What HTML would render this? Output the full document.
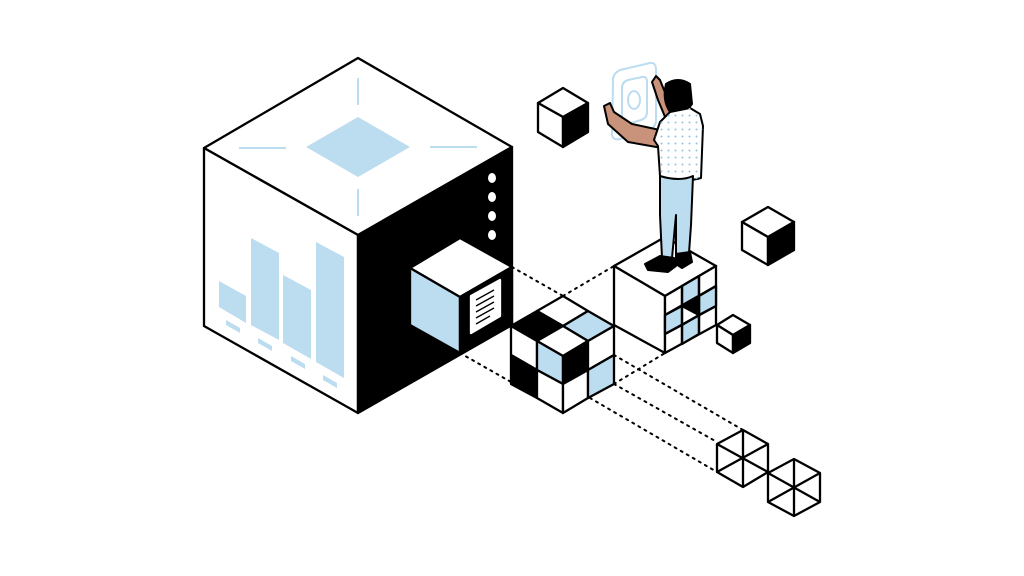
<!DOCTYPE html>
<html><head><meta charset="utf-8"><style>
html,body{margin:0;padding:0;background:#fff;}
svg{display:block;}
</style></head><body>
<svg width="1024" height="576" viewBox="0 0 1024 576" xmlns="http://www.w3.org/2000/svg">
<defs>
<pattern id="dots" width="7" height="7" patternUnits="userSpaceOnUse"><circle cx="3.5" cy="3.5" r="1" fill="#8fc3e3"/></pattern>
</defs>
<rect width="1024" height="576" fill="#fff"/>
<g stroke="#000" stroke-width="2.3" stroke-linejoin="round" fill="none">
<g stroke-dasharray="2 5" stroke-width="2" stroke-linecap="round">
<line x1="512" y1="267" x2="563" y2="296"/>
<line x1="563" y1="296" x2="614" y2="266"/>
<line x1="460" y1="353" x2="511" y2="382"/>
<line x1="614" y1="326" x2="665" y2="296"/>
<line x1="614" y1="384" x2="665" y2="353"/>
<line x1="614" y1="355" x2="743" y2="430"/>
<line x1="614" y1="384" x2="717" y2="442"/>
<line x1="590" y1="398" x2="717" y2="472"/>
</g>
<polygon points="358,58 512,147 358,235 204,148" fill="#fff"/>
<polygon points="204,148 358,235 358,413 204,326" fill="#fff"/>
<polygon points="358,235 512,147 512,325 358,413" fill="#000"/>
</g>
<polygon points="358,117 410,147 358,177 306,147" fill="#bcdcef"/>
<g stroke="#bcdcef" stroke-width="2">
<line x1="358" y1="78" x2="358" y2="105"/><line x1="239" y1="148" x2="286" y2="148"/>
<line x1="430" y1="147" x2="477" y2="147"/><line x1="358" y1="189" x2="358" y2="216"/>
</g>
<g fill="#bcdcef">
<polygon points="219,281 246,296 246,323 219,307"/>
<polygon points="251,238 279,253 279,340 251,325"/>
<polygon points="283,275 311,290 311,359 283,343"/>
<polygon points="316,242 344,257 344,378 316,362"/>
<polygon points="226,320 240,328 240,333 226,325"/>
<polygon points="258,338 272,346 272,351 258,343"/>
<polygon points="291,356 305,364 305,369 291,361"/>
<polygon points="323,375 337,383 337,388 323,380"/>
</g>
<g fill="#fff"><ellipse cx="492" cy="178" rx="4" ry="5"/><ellipse cx="492" cy="197" rx="4" ry="5"/><ellipse cx="492" cy="216" rx="4" ry="5"/><ellipse cx="492" cy="235" rx="4" ry="5"/></g>
<g stroke="#000" stroke-width="2.3" stroke-linejoin="round">
<polygon points="460,238 512,267 460,297 410,268" fill="#fff"/>
<polygon points="410,268 460,297 460,353 410,325" fill="#bcdcef"/>
<polygon points="460,297 512,267 512,325 460,353" fill="#000"/>
<polygon points="471,296 500,280 500,316 471,333" fill="#fff" stroke="#fff"/>
</g>
<g stroke="#000" stroke-width="1.3"><line x1="476" y1="300" x2="494" y2="290"/><line x1="476" y1="306" x2="494" y2="296"/><line x1="476" y1="312" x2="494" y2="302"/><line x1="476" y1="318" x2="494" y2="308"/><line x1="476" y1="324" x2="490" y2="316"/></g>
<g stroke="#000" stroke-width="2.3" stroke-linejoin="round">
<polygon points="563,296 588,311 563,326 537,311" fill="#fff"/>
<polygon points="537,311 563,326 537,341 511,326" fill="#000"/>
<polygon points="588,311 614,326 588,341 563,326" fill="#bcdcef"/>
<polygon points="563,326 588,341 563,356 537,341" fill="#fff"/>
<polygon points="511,326 537,341 537,370 511,355" fill="#fff"/>
<polygon points="537,341 563,356 563,384 537,370" fill="#bcdcef"/>
<polygon points="511,355 537,370 537,398 511,384" fill="#000"/>
<polygon points="537,370 563,384 563,413 537,398" fill="#fff"/>
<polygon points="563,356 588,341 588,370 563,384" fill="#000"/>
<polygon points="588,341 614,326 614,355 588,370" fill="#fff"/>
<polygon points="563,384 588,370 588,398 563,413" fill="#fff"/>
<polygon points="588,370 614,355 614,384 588,398" fill="#bcdcef"/>
<polygon points="665,237 716,266 665,296 614,266" fill="#fff"/>
<polygon points="614,266 665,296 665,353 614,325" fill="#fff"/>
<polygon points="665,296 716,266 716,325 665,353" fill="#fff"/>
<polygon points="682,286 699,276 699,296 682,306" fill="#bcdcef"/>
<polygon points="665,315 682,306 682,325 665,334" fill="#bcdcef"/>
<polygon points="699,296 716,286 716,306 699,315" fill="#bcdcef"/>
<polygon points="682,325 699,315 699,334 682,344" fill="#bcdcef"/>
<polygon points="682,306 699,296 699,315" fill="#000"/>
<line x1="682" y1="286" x2="682" y2="344"/><line x1="699" y1="276" x2="699" y2="334"/>
<line x1="665" y1="315" x2="716" y2="286"/><line x1="665" y1="334" x2="716" y2="306"/>
<polygon points="563,88 588,103 563,117 538,103" fill="#fff"/>
<polygon points="538,103 563,117 563,147 538,132" fill="#fff"/>
<polygon points="563,117 588,103 588,132 563,147" fill="#000"/>
<polygon points="768,207 794,222 768,237 742,222" fill="#fff"/>
<polygon points="742,222 768,237 768,265 742,250" fill="#fff"/>
<polygon points="768,237 794,222 794,250 768,265" fill="#000"/>
<polygon points="733,315 750,325 733,335 717,325" fill="#fff"/>
<polygon points="717,325 733,335 733,353 717,343" fill="#fff"/>
<polygon points="733,335 750,325 750,343 733,353" fill="#000"/>
<polygon points="743,430 768,444 768,472 743,487 717,472 717,444" fill="#fff"/>
<line x1="743" y1="430" x2="743" y2="487"/><line x1="717" y1="444" x2="768" y2="472"/><line x1="768" y1="444" x2="717" y2="472"/>
<polygon points="794,459 820,473 820,502 794,516 768,502 768,473" fill="#fff"/>
<line x1="794" y1="459" x2="794" y2="516"/><line x1="768" y1="473" x2="820" y2="502"/><line x1="820" y1="473" x2="768" y2="502"/>
</g>
<g stroke="#bcdcef" stroke-width="2" fill="none">
<path d="M613,82 Q612,74 620,70 L650,63 Q656,62 656,70 L656,120 Q656,127 649,130 L620,139 Q612,141 612,133 Z"/>
<path d="M622,88 Q622,82 628,80 L642,77 Q647,76 647,82 L647,112 Q647,118 641,120 L628,124 Q622,125 622,119 Z"/>
<ellipse cx="634" cy="100" rx="6" ry="9"/>
</g>
<g stroke="#000" stroke-width="2" stroke-linejoin="round">
<path d="M652,82 L656,76 L660,80 L664,90 L676,112 L668,124 L658,100 Z" fill="#c9927a"/>
<path d="M604,106 L610,103 L614,112 L632,124 L660,130 L662,148 L628,142 L608,124 Z" fill="#c9927a"/>
<path d="M666,84 Q678,76 690,84 L692,104 L684,114 L670,112 Q662,100 666,84 Z" fill="#000"/>
<path d="M670,112 L690,108 L700,114 L703,126 L701,178 Q680,184 660,176 L658,146 L654,140 L660,122 Z" fill="#fff"/>
<path d="M670,112 L690,108 L700,114 L703,126 L701,178 Q680,184 660,176 L658,146 L654,140 L660,122 Z" fill="url(#dots)" stroke="none"/>
<path d="M660,176 Q680,182 693,176 L691,225 L689,253 L676,254 L676,215 L672,258 L662,258 L660,215 Z" fill="#bcdcef"/>
<path d="M660,256 L674,258 L676,266 L668,272 L648,270 L645,264 Z" fill="#000"/>
<path d="M676,254 L690,252 L692,262 L682,268 L676,264 Z" fill="#000"/>
</g>
</svg>
</body></html>
